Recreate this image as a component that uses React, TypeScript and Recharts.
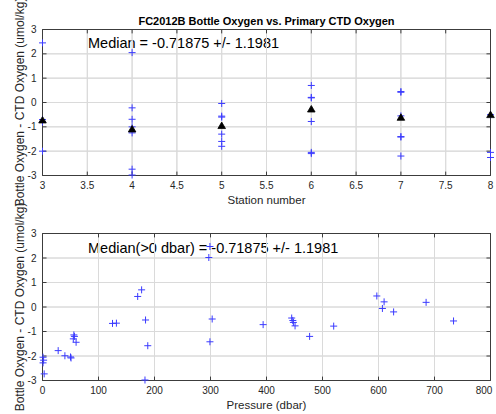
import React from 'react';
import { ScatterChart, Scatter, XAxis, YAxis, CartesianGrid } from 'recharts';

const FONT = '"Liberation Sans", Arial, Helvetica, sans-serif';
const INK = '#262626';
const FRAME = '#3c3c3c';
const BLUE = '#3b3bff';
const GRID = '#dadada';

// ---- Top panel: difference by station ----
const station3 = [2.45, -0.7, -0.8, -2.0];
const station4 = [2.05, -0.22, -0.69, -1.0, -1.25, -2.74, -2.98];
const station5 = [-0.04, -0.56, -0.6, -1.3, -1.6, -1.8];
const station6 = [0.7, 0.21, 0.19, -0.78, -2.05, -2.1];
const station7 = [0.45, 0.42, -0.55, -1.4, -1.42, -2.2];
const station8 = [-0.5, -2.05, -2.26];
const stationIds = [3, 4, 5, 6, 7, 8];
const stationMedians = [-0.73, -1.1, -0.96, -0.28, -0.62, -0.51];

const stationTicks = [3, 3.5, 4, 4.5, 5, 5.5, 6, 6.5, 7, 7.5, 8];
const diffTicks = [-3, -2, -1, 0, 1, 2, 3];

// ---- Bottom panel: difference by pressure ----
const pressures = [1, 2, 1, 3, 28, 40, 50, 51, 55, 56, 57, 60, 125, 132, 170, 177, 184, 188, 183, 297, 299, 299, 303, 394, 445, 447, 448, 451, 477, 520, 597, 607, 610, 627, 685, 734];
const pressureDiffs = [-2.05, -2.17, -2.28, -2.73, -1.78, -1.99, -2.04, -2.08, -1.3, -1.14, -1.2, -1.44, -0.67, -0.66, 0.43, 0.7, -0.53, -1.58, -2.98, 2.02, 2.47, -1.42, -0.49, -0.72, -0.45, -0.55, -0.63, -0.77, -1.2, -0.78, 0.45, -0.06, 0.21, -0.2, 0.19, -0.57];
const pressureTicks = [0, 100, 200, 300, 400, 500, 600, 700, 800];

const titleText = 'FC2012B Bottle Oxygen vs. Primary CTD Oxygen';
const medianTop = 'Median = -0.71875 +/- 1.1981';
const medianBottom = 'Median(>0 dbar) = -0.71875 +/- 1.1981';
const yLabel = 'Bottle Oxygen - CTD Oxygen (umol/kg)';

const stationGroups = [station3, station4, station5, station6, station7, station8];
const stationData = stationGroups.flatMap((vals, i) => vals.map((v) => ({ x: stationIds[i], y: v })));
const medianData = stationIds.map((s, i) => ({ x: s, y: stationMedians[i] }));
const pressureData = pressures.map((p, i) => ({ x: p, y: pressureDiffs[i] }));

const Plus = (props: any) => {
  const { cx, cy } = props;
  if (cx == null || cy == null) return null;
  const a = 3.5;
  return <path d={`M${cx - a},${cy}H${cx + a}M${cx},${cy - a}V${cy + a}`} stroke={BLUE} strokeWidth={1} fill="none" />;
};

const Tri = (props: any) => {
  const { cx, cy } = props;
  if (cx == null || cy == null) return null;
  return <path d={`M${cx},${cy - 3.8}L${cx + 3.8},${cy + 2.7}L${cx - 3.8},${cy + 2.7}Z`} fill="#000" stroke="#000" strokeWidth={0.8} />;
};

const NoMark = () => <g />;

const BottomTick = (props: any) => {
  const { x, y, payload } = props;
  return <text x={x} y={y} dy="0.71em" textAnchor="middle" fontSize={10} fill={INK} fontFamily={FONT}>{payload.value}</text>;
};

const LeftTick = (props: any) => {
  const { x, y, payload } = props;
  return <text x={x} y={y} dy="0.355em" textAnchor="end" fontSize={10} fill={INK} fontFamily={FONT}>{payload.value}</text>;
};

// grid, frame and inward tick marks as two-point series drawn through the chart's scales
function guideSeries(xDomain: number[], xTicks: number[], xTickLen: number, yTickLen: number) {
  const [x0, x1] = xDomain;
  const out: any[] = [];
  xTicks.forEach((t, i) => {
    out.push(<Scatter key={'gx' + i} data={[{ x: t, y: -3 }, { x: t, y: 3 }]} line={{ stroke: GRID, strokeWidth: 1 }} shape={NoMark} isAnimationActive={false} />);
  });
  diffTicks.forEach((t, i) => {
    out.push(<Scatter key={'gy' + i} data={[{ x: x0, y: t }, { x: x1, y: t }]} line={{ stroke: GRID, strokeWidth: 1 }} shape={NoMark} isAnimationActive={false} />);
  });
  xTicks.forEach((t, i) => {
    out.push(<Scatter key={'tb' + i} data={[{ x: t, y: -3 }, { x: t, y: -3 + yTickLen }]} line={{ stroke: FRAME, strokeWidth: 1 }} shape={NoMark} isAnimationActive={false} />);
    out.push(<Scatter key={'tt' + i} data={[{ x: t, y: 3 }, { x: t, y: 3 - yTickLen }]} line={{ stroke: FRAME, strokeWidth: 1 }} shape={NoMark} isAnimationActive={false} />);
  });
  diffTicks.forEach((t, i) => {
    out.push(<Scatter key={'tl' + i} data={[{ x: x0, y: t }, { x: x0 + xTickLen, y: t }]} line={{ stroke: FRAME, strokeWidth: 1 }} shape={NoMark} isAnimationActive={false} />);
    out.push(<Scatter key={'tr' + i} data={[{ x: x1, y: t }, { x: x1 - xTickLen, y: t }]} line={{ stroke: FRAME, strokeWidth: 1 }} shape={NoMark} isAnimationActive={false} />);
  });
  out.push(
    <Scatter key="frame" data={[{ x: x0, y: -3 }, { x: x1, y: -3 }, { x: x1, y: 3 }, { x: x0, y: 3 }, { x: x0, y: -3 }]}
      line={{ stroke: FRAME, strokeWidth: 1 }} shape={NoMark} isAnimationActive={false} />
  );
  return out;
}

export default function App() {
  return (
    <div style={{ position: 'absolute', left: 0, top: 0, width: 496, height: 414, background: '#fff' }}>
      <svg width={496} height={414} style={{ position: 'absolute', left: 0, top: 0 }} fontFamily={FONT}>
        <text x={266.5} y={24.5} textAnchor="middle" fontSize={11} fontWeight="bold" fill="#000">{titleText}</text>
        <text x={88} y={48} fontSize={14.5} fill="#000">{medianTop}</text>
        <text x={88} y={253} fontSize={14.5} fill="#000">{medianBottom}</text>
        <text x={266.5} y={204} textAnchor="middle" fontSize={11.5} fill={INK}>Station number</text>
        <text x={266.5} y={408.5} textAnchor="middle" fontSize={11.5} fill={INK}>Pressure (dbar)</text>
        <text transform="translate(23.5,102) rotate(-90)" textAnchor="middle" fontSize={12} fill={INK}>{yLabel}</text>
        <text transform="translate(23.5,307) rotate(-90)" textAnchor="middle" fontSize={12} fill={INK}>{yLabel}</text>
      </svg>
      <ScatterChart width={496} height={210} margin={{ top: 29.5, right: 5.5, bottom: 0, left: 12.5 }}>
        <CartesianGrid stroke={GRID} strokeWidth={1} />
        <XAxis dataKey="x" type="number" domain={[3, 8]} ticks={stationTicks} height={34.5} stroke={FRAME}
          tickSize={0} tickLine={false} tickMargin={6} tick={(p: any) => <BottomTick {...p} />} />
        <YAxis dataKey="y" type="number" domain={[-3, 3]} ticks={diffTicks} width={30} stroke={FRAME}
          tickSize={0} tickLine={false} tickMargin={6} tick={(p: any) => <LeftTick {...p} />} />
        {guideSeries([3, 8], stationTicks, 0.045, 0.16)}
        <Scatter data={stationData} shape={(p: any) => <Plus {...p} />} isAnimationActive={false} />
        <Scatter data={medianData} shape={(p: any) => <Tri {...p} />} isAnimationActive={false} />
      </ScatterChart>
      <ScatterChart width={496} height={204} margin={{ top: 23.5, right: 5.5, bottom: 0, left: 12.5 }}>
        <CartesianGrid stroke={GRID} strokeWidth={1} />
        <XAxis dataKey="x" type="number" domain={[0, 800]} ticks={pressureTicks} height={33.5} stroke={FRAME}
          tickSize={0} tickLine={false} tickMargin={6} tick={(p: any) => <BottomTick {...p} />} />
        <YAxis dataKey="y" type="number" domain={[-3, 3]} ticks={diffTicks} width={30} stroke={FRAME}
          tickSize={0} tickLine={false} tickMargin={6} tick={(p: any) => <LeftTick {...p} />} />
        {guideSeries([0, 800], pressureTicks, 7.2, 0.16)}
        <Scatter data={pressureData} shape={(p: any) => <Plus {...p} />} isAnimationActive={false} />
      </ScatterChart>
    </div>
  );
}
